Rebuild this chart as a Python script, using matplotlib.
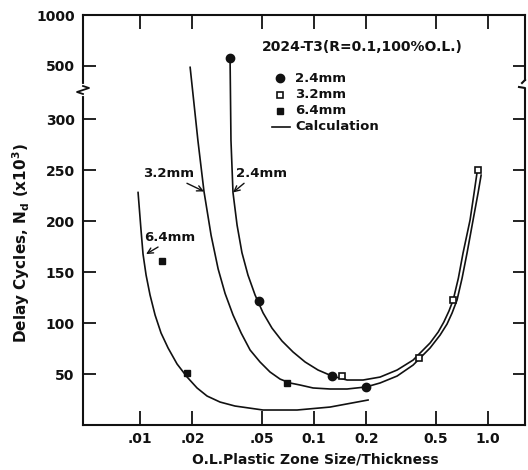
import numpy as np
import matplotlib
matplotlib.use("Agg")
import matplotlib.pyplot as plt
from matplotlib.ticker import FixedLocator, FixedFormatter, NullLocator

plt.rcParams['font.family'] = ['DejaVu Sans']

# measured points
x_24 = [0.0329, 0.0483, 0.127, 0.199]
y_24 = [580, 122, 48, 37]
x_32 = [0.145, 0.401, 0.63, 0.88]
y_32 = [48, 66, 123, 250]
x_64 = [0.0134, 0.0186, 0.070]
y_64 = [161, 51, 41]

# calculation curves
cx_24 = [0.0329, 0.0333, 0.0342, 0.0361, 0.0385, 0.0417, 0.0458, 0.0509, 0.0573,
         0.0654, 0.0757, 0.0888, 0.1054, 0.1269, 0.1548, 0.1912, 0.2395, 0.300,
         0.371, 0.464, 0.517, 0.557, 0.596, 0.630, 0.675, 0.718, 0.788, 0.831, 0.865]
cy_24 = [580, 279, 228, 196, 169, 147, 127.5, 110, 95, 82.4, 71.6, 61.8, 53.9, 48,
         44.1, 44.1, 47, 53.9, 63.7, 80.4, 91.2, 101, 111.8, 122.5, 144, 168.6,
         201, 227.5, 248]
cx_32 = [0.0194, 0.0215, 0.0233, 0.0256, 0.0281, 0.0308, 0.0342, 0.0381, 0.0429,
         0.0489, 0.0558, 0.0638, 0.0727, 0.0831, 0.0987, 0.1236, 0.1548, 0.199,
         0.2395, 0.300, 0.371, 0.464, 0.530, 0.581, 0.621, 0.663, 0.709, 0.757,
         0.820, 0.876, 0.912]
cy_32 = [495, 279, 229, 186, 153, 129, 108, 90.2, 73.5, 61.8, 52, 45, 41.2, 39.2,
         36.3, 35.3, 35.3, 37.3, 41.2, 48, 58.8, 75.5, 88.2, 99, 109.8, 122.5, 144,
         168.6, 201, 227.5, 245]
cx_64 = [0.00974, 0.01013, 0.0104, 0.01083, 0.01141, 0.0122, 0.0132, 0.01449,
         0.01632, 0.01862, 0.02126, 0.02427, 0.02882, 0.03513, 0.0509, 0.0799,
         0.1236, 0.2043]
cy_64 = [228, 191, 167.6, 147, 127.5, 107.8, 90.2, 75.5, 59.8, 47.1, 36.3, 28.4,
         22.5, 18.6, 14.7, 14.7, 17.6, 24.5]

xticks = [0.01, 0.02, 0.05, 0.1, 0.2, 0.5, 1.0]
xlabels = ['.01', '.02', '.05', '0.1', '0.2', '0.5', '1.0']
yticks = [50, 100, 150, 200, 250, 300, 500, 1000]
ylabels = ['50', '100', '150', '200', '250', '300', '500', '1000']

# broken y axis: linear to 300, squeezed above
_yv = [-1000, 0, 300, 500, 1000, 5000]
_yg = [-1000, 0, 300, 352, 402, 802]
def fwd(y):
    return np.interp(y, _yv, _yg)
def inv(g):
    return np.interp(g, _yg, _yv)

fig = plt.figure(figsize=(5.28, 4.7), dpi=100)
ax = fig.add_axes([83/528, 1-425/470, 442/528, 410/470])
ax.set_xscale('log')
ax.set_yscale('function', functions=(fwd, inv))
ax.set_xlim(0.0047, 1.63)
ax.set_ylim(0, 1000)

lw = 1.2
k = '#111111'
ax.plot(cx_24, cy_24, color=k, lw=lw)
ax.plot(cx_32, cy_32, color=k, lw=lw)
ax.plot(cx_64, cy_64, color=k, lw=lw)

ax.plot(x_24, y_24, 'o', color=k, ms=6, zorder=5)
ax.plot(x_32, y_32, 's', mfc='white', mec=k, mew=1.2, ms=5, zorder=5)
ax.plot(x_64, y_64, 's', color=k, ms=5, zorder=5)

fw = 'bold'
ax.xaxis.set_major_locator(FixedLocator(xticks))
ax.xaxis.set_major_formatter(FixedFormatter(xlabels))
ax.xaxis.set_minor_locator(NullLocator())
ax.yaxis.set_major_locator(FixedLocator(yticks))
ax.yaxis.set_major_formatter(FixedFormatter(ylabels))
ax.yaxis.set_minor_locator(NullLocator())
ax.tick_params(axis='x', direction='in', length=10, width=1.3, pad=5,
               top=True, labelsize=10, colors=k)
ax.tick_params(axis='y', direction='in', length=9, width=1.3, pad=6,
               right=True, labelsize=10, colors=k)
for lab in ax.get_xticklabels() + ax.get_yticklabels():
    lab.set_fontweight(fw)

for s in ['left', 'bottom', 'top']:
    ax.spines[s].set_linewidth(1.5)
    ax.spines[s].set_color(k)
ax.spines['right'].set_visible(False)

# right spine with break
px = 1/442
py = 1/410
yb_top = (425-80)/410
yb_bot = (425-88)/410
ax.plot([1, 1], [1, yb_top], transform=ax.transAxes, color=k, lw=1.5, clip_on=False)
ax.plot([1, 1-3*px], [yb_top, yb_top-3*py], transform=ax.transAxes, color=k, lw=1.5, clip_on=False)
ax.plot([1-6*px, 1, 1], [yb_bot+1*py, yb_bot, 0], transform=ax.transAxes, color=k, lw=1.5, clip_on=False)

# left spine zigzag
yz = (425-90)/410
ax.plot([0, 0], [yz-4*py, yz+4*py], transform=ax.transAxes, color='white', lw=3, clip_on=False, zorder=6)
ax.plot([0, 6*px, -6*px, 0], [yz+4*py, yz+2*py, yz-2*py, yz-4*py],
        transform=ax.transAxes, color=k, lw=1.3, clip_on=False, zorder=7)

# curve labels
ax.text(0.01449, 247, '3.2mm', ha='center', va='center', fontsize=9.5, fontweight=fw, color=k)
ax.text(0.0502, 247, '2.4mm', ha='center', va='center', fontsize=9.5, fontweight=fw, color=k)
ax.text(0.01487, 184, '6.4mm', ha='center', va='center', fontsize=9.5, fontweight=fw, color=k)
arr = dict(arrowstyle='->', color=k, lw=1.0, shrinkA=0, shrinkB=0)
ax.annotate('', xy=(0.0233, 229), xytext=(0.0186, 237), arrowprops=arr)
ax.annotate('', xy=(0.0342, 228), xytext=(0.0396, 237), arrowprops=arr)
ax.annotate('', xy=(0.01083, 167.6), xytext=(0.01269, 174.5), arrowprops=arr)

# legend block
ax.text(0.405, 0.922, '2024-T3(R=0.1,100%O.L.)', transform=ax.transAxes,
        ha='left', va='center', fontsize=10, fontweight=fw, color=k)
lx = 0.446
tx = 0.48
ly = [0.846, 0.805, 0.766, 0.727]
ax.plot([lx], [ly[0]], 'o', color=k, ms=6, transform=ax.transAxes)
ax.plot([lx], [ly[1]], 's', mfc='white', mec=k, mew=1.2, ms=5, transform=ax.transAxes)
ax.plot([lx], [ly[2]], 's', color=k, ms=5, transform=ax.transAxes)
ax.plot([0.428, 0.468], [ly[3], ly[3]], color=k, lw=1.2, transform=ax.transAxes)
for t, yy in zip(['2.4mm', '3.2mm', '6.4mm', 'Calculation'], ly):
    ax.text(tx, yy, t, transform=ax.transAxes, ha='left', va='center',
            fontsize=9.5, fontweight=fw, color=k)

ax.set_xlabel('O.L.Plastic Zone Size/Thickness', fontsize=10, fontweight=fw, color=k)
ax.xaxis.set_label_coords(0.525, -0.067)
ax.set_ylabel(r'Delay Cycles, N$_\mathregular{d}$ (x10$^\mathregular{3}$)', fontsize=11,
              fontweight=fw, color=k)
ax.yaxis.set_label_coords(-0.115, 0.444)

fig.savefig('out.png', dpi=100)
